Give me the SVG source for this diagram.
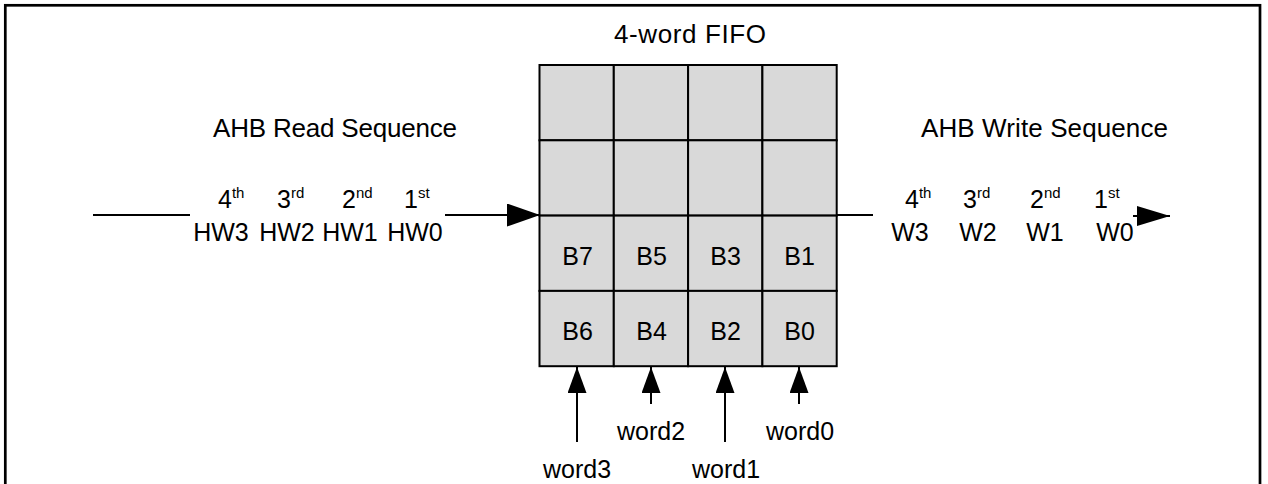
<svg xmlns="http://www.w3.org/2000/svg" width="1268" height="484" viewBox="0 0 1268 484">
<defs>
<style>
text{font-family:"Liberation Sans",Arial,sans-serif;font-size:25px;fill:#000}
.ttl{font-size:26px}
.sup{font-size:15px}
.cell{fill:#d9d9d9;stroke:#000;stroke-width:2}
.ln{stroke:#000;stroke-width:2;fill:none}
.mid{text-anchor:middle}
</style>
<marker id="ah" markerWidth="33" markerHeight="23" refX="32" refY="11.5" orient="auto" markerUnits="userSpaceOnUse">
<path d="M0,0 L33,11.5 L0,23 Z" fill="#000"/>
</marker>
<marker id="ahr" markerWidth="33" markerHeight="20" refX="33" refY="10" orient="auto" markerUnits="userSpaceOnUse">
<path d="M0,0 L33,10 L0,20 Z" fill="#000"/>
</marker>
<marker id="ahs" markerWidth="26" markerHeight="19" refX="26" refY="9.5" orient="auto" markerUnits="userSpaceOnUse">
<path d="M0,0 L26,9.5 L0,19 Z" fill="#000"/>
</marker>
</defs>
<rect x="5.3" y="5.3" width="1254.7" height="600" fill="#fff" stroke="#000" stroke-width="2.7"/>

<g id="titles">
<text class="mid ttl" x="690" y="43" textLength="152" lengthAdjust="spacing">4-word FIFO</text>
<text class="mid ttl" x="335" y="137" textLength="244" lengthAdjust="spacing">AHB Read Sequence</text>
<text class="mid ttl" x="1044.5" y="137" textLength="247" lengthAdjust="spacing">AHB Write Sequence</text>
</g>

<g id="fifo">
<rect class="cell" x="539.5" y="65" width="74.3" height="75.3"/>
<rect class="cell" x="613.8" y="65" width="74.3" height="75.3"/>
<rect class="cell" x="688.1" y="65" width="74.3" height="75.3"/>
<rect class="cell" x="762.4" y="65" width="74.3" height="75.3"/>
<rect class="cell" x="539.5" y="140.3" width="74.3" height="75.3"/>
<rect class="cell" x="613.8" y="140.3" width="74.3" height="75.3"/>
<rect class="cell" x="688.1" y="140.3" width="74.3" height="75.3"/>
<rect class="cell" x="762.4" y="140.3" width="74.3" height="75.3"/>
<rect class="cell" x="539.5" y="215.6" width="74.3" height="75.3"/>
<rect class="cell" x="613.8" y="215.6" width="74.3" height="75.3"/>
<rect class="cell" x="688.1" y="215.6" width="74.3" height="75.3"/>
<rect class="cell" x="762.4" y="215.6" width="74.3" height="75.3"/>
<rect class="cell" x="539.5" y="290.9" width="74.3" height="75.3"/>
<rect class="cell" x="613.8" y="290.9" width="74.3" height="75.3"/>
<rect class="cell" x="688.1" y="290.9" width="74.3" height="75.3"/>
<rect class="cell" x="762.4" y="290.9" width="74.3" height="75.3"/>
<text class="mid" x="577.5" y="265">B7</text>
<text class="mid" x="651.5" y="265">B5</text>
<text class="mid" x="725.5" y="265">B3</text>
<text class="mid" x="799.5" y="265">B1</text>
<text class="mid" x="577.5" y="340">B6</text>
<text class="mid" x="651.5" y="340">B4</text>
<text class="mid" x="725.5" y="340">B2</text>
<text class="mid" x="799.5" y="340">B0</text>
</g>

<g id="read-seq">
<text x="218" y="208">4<tspan class="sup" dy="-10">th</tspan></text>
<text x="277" y="208">3<tspan class="sup" dy="-10">rd</tspan></text>
<text x="342" y="208">2<tspan class="sup" dy="-10">nd</tspan></text>
<text x="404" y="208">1<tspan class="sup" dy="-10">st</tspan></text>
<text class="mid" x="221" y="241">HW3</text>
<text class="mid" x="287" y="241">HW2</text>
<text class="mid" x="350" y="241">HW1</text>
<text class="mid" x="415" y="241">HW0</text>
</g>

<g id="write-seq">
<text x="905" y="208">4<tspan class="sup" dy="-10">th</tspan></text>
<text x="963" y="208">3<tspan class="sup" dy="-10">rd</tspan></text>
<text x="1030" y="208">2<tspan class="sup" dy="-10">nd</tspan></text>
<text x="1094" y="208">1<tspan class="sup" dy="-10">st</tspan></text>
<text class="mid" x="910" y="241">W3</text>
<text class="mid" x="978" y="241">W2</text>
<text class="mid" x="1045" y="241">W1</text>
<text class="mid" x="1115" y="241">W0</text>
</g>

<g id="word-labels">
<text class="mid" x="577" y="478">word3</text>
<text class="mid" x="651" y="440">word2</text>
<text class="mid" x="726" y="478">word1</text>
<text class="mid" x="800" y="440">word0</text>
</g>

<g id="connectors">
<line class="ln" x1="93" y1="215" x2="190" y2="215"/>
<line class="ln" x1="445" y1="215" x2="539" y2="215" marker-end="url(#ah)"/>
<line class="ln" x1="837" y1="215" x2="873" y2="215"/>
<line class="ln" x1="1133" y1="216" x2="1170" y2="216" marker-end="url(#ahr)"/>
<line class="ln" x1="577" y1="442" x2="577" y2="367" marker-end="url(#ahs)"/>
<line class="ln" x1="651" y1="404" x2="651" y2="367" marker-end="url(#ahs)"/>
<line class="ln" x1="725" y1="442" x2="725" y2="367" marker-end="url(#ahs)"/>
<line class="ln" x1="799" y1="404" x2="799" y2="367" marker-end="url(#ahs)"/>
</g>
</svg>
